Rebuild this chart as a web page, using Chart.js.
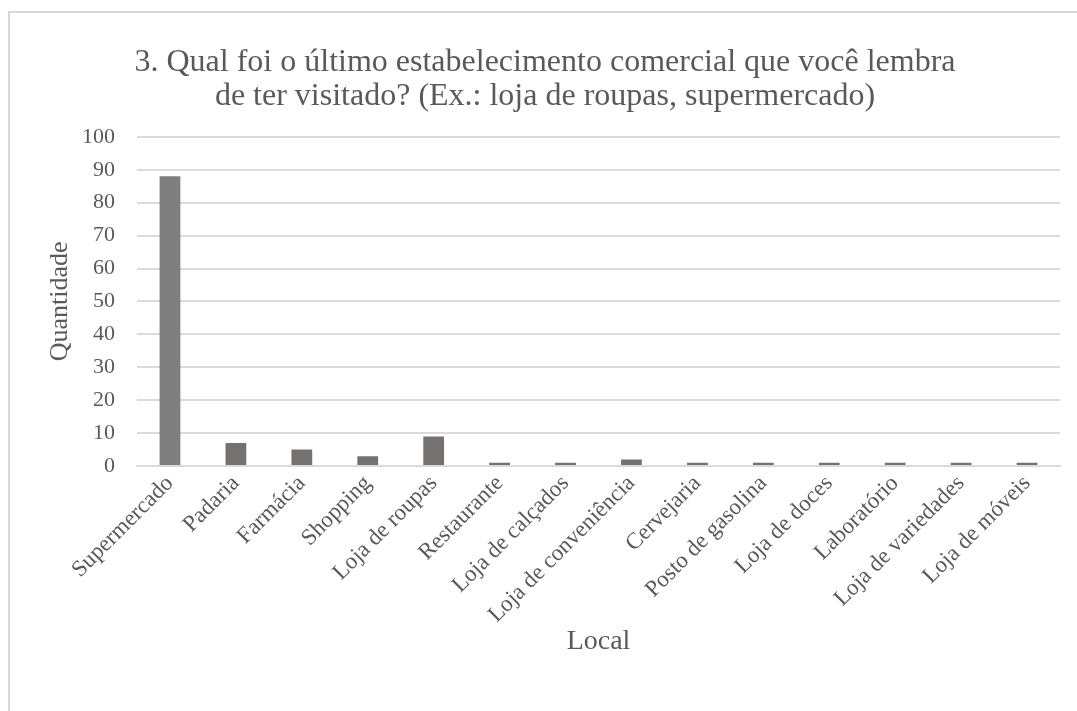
<!DOCTYPE html>
<html>
<head>
<meta charset="utf-8">
<script src="https://cdn.jsdelivr.net/npm/chart.js@4.4.1/dist/chart.umd.min.js"></script>
<style>
  html, body { margin: 0; padding: 0; background: #ffffff; overflow: hidden; }
  body { width: 1077px; height: 711px; position: relative; }
  #frame {
    position: absolute; left: 8px; top: 11px; width: 1100px; height: 720px;
    border-left: 2px solid #d9d9d9; border-top: 2px solid #d9d9d9;
    box-sizing: border-box;
  }
  #wrap { position: absolute; left: 10px; top: 13px; width: 1076px; height: 698px; }
</style>
</head>
<body>
<div id="frame"></div>
<div id="wrap"><canvas id="chart"></canvas></div>
<script>
const titleLines = [
  '3. Qual foi o último estabelecimento comercial que você lembra',
  'de ter visitado? (Ex.: loja de roupas, supermercado)'
];
const categories = [
  'Supermercado', 'Padaria', 'Farmácia', 'Shopping', 'Loja de roupas',
  'Restaurante', 'Loja de calçados', 'Loja de conveniência', 'Cervejaria',
  'Posto de gasolina', 'Loja de doces', 'Laboratório', 'Loja de variedades',
  'Loja de móveis'
];
const quantities = [88, 7, 5, 3, 9, 1, 1, 2, 1, 1, 1, 1, 1, 1];
const barColors = ['#7f7f7f', '#767171', '#767171', '#767171', '#767171',
  '#767171', '#767171', '#767171', '#767171', '#767171', '#767171',
  '#767171', '#767171', '#767171'];
const yTitle = 'Quantidade';
const xTitle = 'Local';

const serif = "'Liberation Serif', 'Times New Roman', serif";
const textColor = '#595959';
const gridColor = '#dadada';

new Chart(document.getElementById('chart'), {
  type: 'bar',
  data: {
    labels: categories,
    datasets: [{
      data: quantities,
      backgroundColor: barColors,
      borderWidth: 0,
      categoryPercentage: 1,
      barPercentage: 0.315
    }]
  },
  options: {
    responsive: true,
    maintainAspectRatio: false,
    animation: false,
    layout: { padding: { left: 20, right: 26, top: 10, bottom: 0 } },
    plugins: {
      legend: { display: false },
      tooltip: { enabled: false },
      title: {
        display: true,
        text: titleLines,
        color: textColor,
        font: { family: serif, size: 32, weight: 'normal', lineHeight: 1.06 },
        padding: { top: 23, bottom: 23 }
      }
    },
    scales: {
      y: {
        min: 0,
        max: 100,
        afterFit: (scale) => { scale.width = 107; },
        ticks: {
          stepSize: 10,
          color: textColor,
          font: { family: serif, size: 22 },
          padding: 22
        },
        grid: { color: gridColor, lineWidth: 2, drawTicks: false },
        border: { display: false },
        title: {
          display: true,
          text: yTitle,
          color: textColor,
          font: { family: serif, size: 26 },
          padding: { top: 15, bottom: 0 }
        }
      },
      x: {
        afterFit: (scale) => {
          scale.height = 245;
          scale.paddingLeft = 0;
          scale.paddingRight = 0;
        },
        ticks: {
          autoSkip: false,
          minRotation: 45,
          maxRotation: 45,
          color: textColor,
          font: { family: serif, size: 23 },
          padding: 4
        },
        grid: { display: false, drawTicks: false },
        border: { display: true, color: gridColor, width: 2 },
        title: {
          display: true,
          text: xTitle,
          color: textColor,
          font: { family: serif, size: 28 },
          padding: { top: 0, bottom: 53 }
        }
      }
    }
  }
});
</script>
</body>
</html>
